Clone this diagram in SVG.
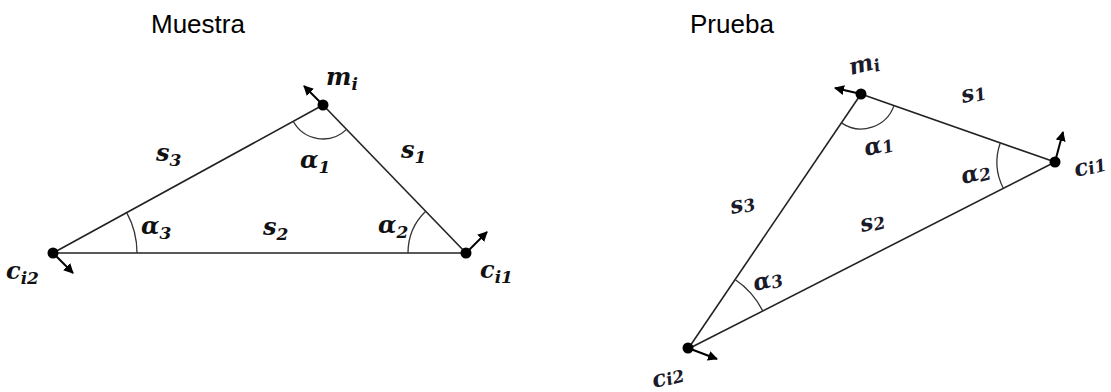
<svg xmlns="http://www.w3.org/2000/svg" width="1111" height="392" viewBox="0 0 1111 392">
<defs>
<marker id="ah" viewBox="0 0 10 10" refX="9" refY="5" markerWidth="10" markerHeight="10" markerUnits="userSpaceOnUse" orient="auto">
<path d="M0,0 L10,5 L0,10 Z" fill="#000"/>
</marker>
</defs>
<style>
.title{font-family:"Liberation Sans",Arial,sans-serif;font-size:26px;fill:#000}
.side{stroke:#222;stroke-width:1.6;fill:none}
.arc{stroke:#333;stroke-width:1.3;fill:none}
.vec{stroke:#000;stroke-width:2;fill:none;marker-end:url(#ah)}
.dot{fill:#000}
.lbl{font-family:"DejaVu Serif","Liberation Serif",serif;font-style:italic;font-weight:bold;font-size:24px;fill:#111}
.lblr{font-family:"DejaVu Serif","Liberation Serif",serif;font-style:italic;font-weight:bold;font-size:23px;fill:#1a1a2a}
.sub{font-size:17px}
</style>
<rect width="1111" height="392" fill="#fff"/>
<text class="title" x="151" y="33">Muestra</text>
<text class="title" x="690" y="33">Prueba</text>

<g id="connectors">
<line class="side" x1="323" y1="105" x2="466" y2="253"/>
<line class="side" x1="466" y1="253" x2="53" y2="253"/>
<line class="side" x1="53" y1="253" x2="323" y2="105"/>
<path class="arc" d="M293.2,121.3 A34,34 0 0 0 346.6,129.4"/>
<path class="arc" d="M408,253 A58,58 0 0 1 425.7,211.3"/>
<path class="arc" d="M137,253 A84,84 0 0 0 126.7,212.6"/>

<line class="side" x1="861" y1="94" x2="1055" y2="162"/>
<line class="side" x1="1055" y1="162" x2="688" y2="349"/>
<line class="side" x1="688" y1="349" x2="861" y2="94"/>
<path class="arc" d="M841.4,122.9 A35,35 0 0 0 894,105.6"/>
<path class="arc" d="M1000.3,142.8 A58,58 0 0 0 1003.3,188.3"/>
<path class="arc" d="M735.1,279.5 A84,84 0 0 1 762.8,310.9"/>

<line class="vec" x1="323" y1="105" x2="304" y2="86"/>
<line class="vec" x1="466" y1="253" x2="487" y2="232"/>
<line class="vec" x1="53" y1="253" x2="73" y2="273"/>
<line class="vec" x1="861" y1="94" x2="835" y2="88"/>
<line class="vec" x1="1055" y1="162" x2="1063" y2="132"/>
<line class="vec" x1="688" y1="348" x2="717" y2="359"/>
</g>

<g id="left-mi"><circle class="dot" cx="323" cy="105" r="5.5"/><text class="lbl" x="326" y="85">m<tspan class="sub" dy="5">i</tspan></text></g>
<g id="left-ci1"><circle class="dot" cx="466" cy="253" r="5.5"/><text class="lbl" x="480" y="278">c<tspan class="sub" dy="5">i1</tspan></text></g>
<g id="left-ci2"><circle class="dot" cx="53" cy="253" r="5.5"/><text class="lbl" x="6" y="279">c<tspan class="sub" dy="5">i2</tspan></text></g>
<g id="left-labels">
<text class="lbl" x="401" y="158">s<tspan class="sub" dy="5">1</tspan></text>
<text class="lbl" x="156" y="161">s<tspan class="sub" dy="5">3</tspan></text>
<text class="lbl" x="263" y="235">s<tspan class="sub" dy="5">2</tspan></text>
<text class="lbl" x="300" y="168">α<tspan class="sub" dy="5">1</tspan></text>
<text class="lbl" x="378" y="233">α<tspan class="sub" dy="5">2</tspan></text>
<text class="lbl" x="141" y="234">α<tspan class="sub" dy="5">3</tspan></text>
</g>

<g id="right-mi"><circle class="dot" cx="861" cy="94" r="5.5"/><text class="lblr" x="851" y="75" transform="rotate(-14 851 75)">m<tspan class="sub" dy="3">i</tspan></text></g>
<g id="right-ci1"><circle class="dot" cx="1055" cy="162" r="5.5"/><text class="lblr" x="1076" y="177" transform="rotate(-14 1076 177)">c<tspan class="sub" dy="1">i1</tspan></text></g>
<g id="right-ci2"><circle class="dot" cx="688" cy="348" r="5.5"/><text class="lblr" x="654" y="388" transform="rotate(-14 654 388)">c<tspan class="sub" dy="1">i2</tspan></text></g>
<g id="right-labels">
<text class="lblr" x="963" y="103" transform="rotate(-14 963 103)">s<tspan class="sub" dy="2">1</tspan></text>
<text class="lblr" x="732" y="214" transform="rotate(-14 732 214)">s<tspan class="sub" dy="2">3</tspan></text>
<text class="lblr" x="862" y="232" transform="rotate(-14 862 232)">s<tspan class="sub" dy="2">2</tspan></text>
<text class="lblr" x="866" y="156" transform="rotate(-14 866 156)">α<tspan class="sub" dy="2">1</tspan></text>
<text class="lblr" x="963" y="184" transform="rotate(-14 963 184)">α<tspan class="sub" dy="2">2</tspan></text>
<text class="lblr" x="755" y="291" transform="rotate(-14 755 291)">α<tspan class="sub" dy="2">3</tspan></text>
</g>
</svg>
